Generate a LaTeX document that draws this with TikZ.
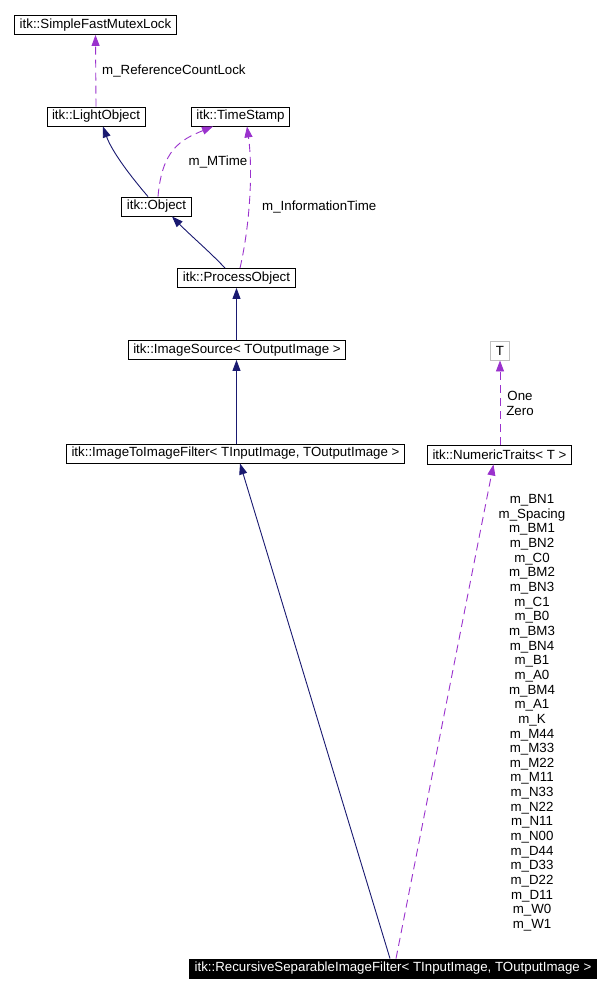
\documentclass[tikz,border=0pt]{standalone}
\usepackage{fontspec}
\setmainfont{Liberation Sans}
\usetikzlibrary{arrows.meta}
\definecolor{edgenavy}{HTML}{191970}
\definecolor{edgeorchid}{HTML}{9A32CD}
\definecolor{boxgray}{HTML}{BFBFBF}
\begin{document}
\begin{tikzpicture}[x=1pt, y=-1pt,
    font=\fontsize{13.3}{14.65}\selectfont,
    cls/.style={draw=black, line width=0.9pt, inner xsep=5pt, inner ysep=0pt, minimum height=19pt},
    inherit/.style={draw=edgenavy, line width=0.9pt, -{Triangle[length=11pt,width=8pt]}},
    usage/.style={draw=edgeorchid, line width=0.9pt, dash pattern=on 8pt off 5pt,
      -{Triangle[length=11pt,width=8pt]}},
    lbl/.style={inner sep=0pt}]
  \useasboundingbox (0,0) rectangle (608,993);

  % class boxes, placed at their centres
  \node[cls] (mutexlock) at (95.5,25) {itk::SimpleFastMutexLock};
  \node[cls] (lightobj) at (96,116.5) {itk::LightObject};
  \node[cls] (timestamp) at (240.5,116.5) {itk::TimeStamp};
  \node[cls] (object) at (156.5,206.5) {itk::Object};
  \node[cls] (procobj) at (236.5,278) {itk::ProcessObject};
  \node[cls] (imgsource) at (237,350) {itk::ImageSource< TOutputImage >};
  \node[cls] (imgfilter) at (235.5,453.5) {itk::ImageToImageFilter< TInputImage, TOutputImage >};
  \node[cls, draw=boxgray] (tparam) at (500,350.5) {T};
  \node[cls] (numtraits) at (499.5,454.5) {itk::NumericTraits< T >};
  \node[cls, fill=black, text=white] (recfilter) at (393,968.5)
    {itk::RecursiveSeparableImageFilter< TInputImage, TOutputImage >};

  % inheritance
  \draw[inherit] ([xshift=-8.5pt]object.north) .. controls (132,178) and (112,152) .. ([xshift=7pt]lightobj.south);
  \draw[inherit] ([xshift=-11.5pt]procobj.north) .. controls (210,252) and (190,235) .. ([xshift=15.5pt]object.south);
  \draw[inherit] (imgsource.north -| procobj.south) -- (procobj.south);
  \draw[inherit] (imgfilter.north -| procobj.south) -- (imgsource.south -| procobj.south);
  \draw[inherit] ([xshift=-3pt]recfilter.north) -- ([xshift=4.5pt]imgfilter.south);

  % members
  \draw[usage] (lightobj.north) -- (mutexlock.south);
  \draw[usage] ([xshift=1.5pt]object.north) .. controls (162,150) and (180,140) .. ([xshift=-27.5pt]timestamp.south);
  \draw[usage] ([xshift=3.5pt]procobj.north) .. controls (250,225) and (253,170) .. ([xshift=6.5pt]timestamp.south);
  \draw[usage] (numtraits.north -| tparam.south) -- (tparam.south);
  \draw[usage] ([xshift=3pt]recfilter.north) -- ([xshift=-6pt]numtraits.south);

  \node[lbl, anchor=west] (reflock) at (102,71) {m\_ReferenceCountLock};
  \node[lbl] (mtime) at (218,162) {m\_MTime};
  \node[lbl, anchor=west] (infotime) at (262,207) {m\_InformationTime};
  \node[lbl, align=center] (onezero) at (520,403.7) {One\\Zero};
  \node[lbl, align=center] (coeffs) at (532,712.8) {m\_BN1\\m\_Spacing\\m\_BM1\\m\_BN2\\m\_C0\\m\_BM2\\m\_BN3\\m\_C1\\m\_B0\\m\_BM3\\m\_BN4\\m\_B1\\m\_A0\\m\_BM4\\m\_A1\\m\_K\\m\_M44\\m\_M33\\m\_M22\\m\_M11\\m\_N33\\m\_N22\\m\_N11\\m\_N00\\m\_D44\\m\_D33\\m\_D22\\m\_D11\\m\_W0\\m\_W1};
\end{tikzpicture}
\end{document}
